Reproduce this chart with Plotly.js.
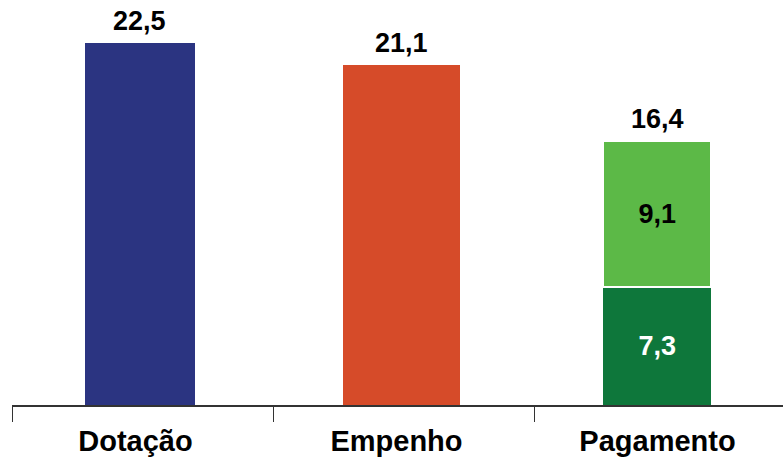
<!DOCTYPE html>
<html>
<head>
<meta charset="utf-8">
<script src="https://cdn.plot.ly/plotly-3.0.1.min.js"></script>
<style>html,body{margin:0;padding:0;background:#fff;}#chart{width:783px;height:468px;}</style>
</head>
<body>
<div id="chart"></div>
<script>
const categories = ["Dotação", "Empenho", "Pagamento"];
const dotacao = [22.5, null, null];
const empenho = [null, 21.1, null];
const pagamentoBase = [null, null, 7.3];
const pagamentoTopo = [null, null, 9.1];
const totals = [22.5, 21.1, 16.4];

const FONT = '"Liberation Sans", Arial, sans-serif';
const PX_PER_CAT = 261.5;
// per-category bar geometry (in category units): left offset and width
const barOffset = [-0.221, -0.230, -0.236];
const barWidth  = [0.421, 0.446, 0.416];

function barTrace(y, color, extra) {
  return Object.assign({
    type:'bar', x:categories, y:y, width:barWidth, offset:barOffset,
    marker:{color:color}, hoverinfo:'skip'
  }, extra || {});
}

const traces = [
  barTrace(dotacao, '#2B3481'),
  barTrace(empenho, '#D64B29'),
  barTrace(pagamentoBase, '#0E773B', {
    texttemplate:'%{y:.1f}', textposition:'inside', insidetextanchor:'middle',
    textfont:{family:FONT, size:27, color:'#ffffff', weight:'bold'}
  }),
  barTrace(pagamentoTopo, '#5CB947', {
    marker:{color:'#5CB947', line:{color:'#ffffff', width:2}},
    texttemplate:'%{y:.1f}', textposition:'inside', insidetextanchor:'middle',
    textfont:{family:FONT, size:27, color:'#000000', weight:'bold'}
  })
];

const annotations = categories.map((c, i) => ({
  x:c, y:totals[i], xref:'x', yref:'y',
  text:totals[i].toFixed(1).replace('.', ','),
  showarrow:false, yanchor:'bottom', xanchor:'center',
  xshift:(barOffset[i] + barWidth[i] / 2) * PX_PER_CAT,
  yshift:5,
  font:{family:FONT, size:27, color:'#000000', weight:'bold'}
}));

const layout = {
  width:783, height:468,
  margin:{l:12, r:0, t:0, b:63},
  paper_bgcolor:'#ffffff', plot_bgcolor:'#ffffff',
  barmode:'stack',
  showlegend:false,
  separators:',.',
  annotations:annotations,
  xaxis:{
    type:'category', range:[-0.5, 2.454],
    tickson:'boundaries', ticks:'outside', ticklen:15, tickwidth:1, tickcolor:'#333333',
    showline:true, linecolor:'#333333', linewidth:1.5,
    showgrid:false, zeroline:false,
    ticklabelshift:-7, ticklabelstandoff:10,
    tickfont:{family:FONT, size:29, color:'#000000', weight:'bold'},
    fixedrange:true
  },
  yaxis:{
    range:[0, 25.14], visible:false, showgrid:false, zeroline:false, fixedrange:true
  }
};

Plotly.newPlot('chart', traces, layout, {displayModeBar:false, staticPlot:true});
</script>
</body>
</html>
